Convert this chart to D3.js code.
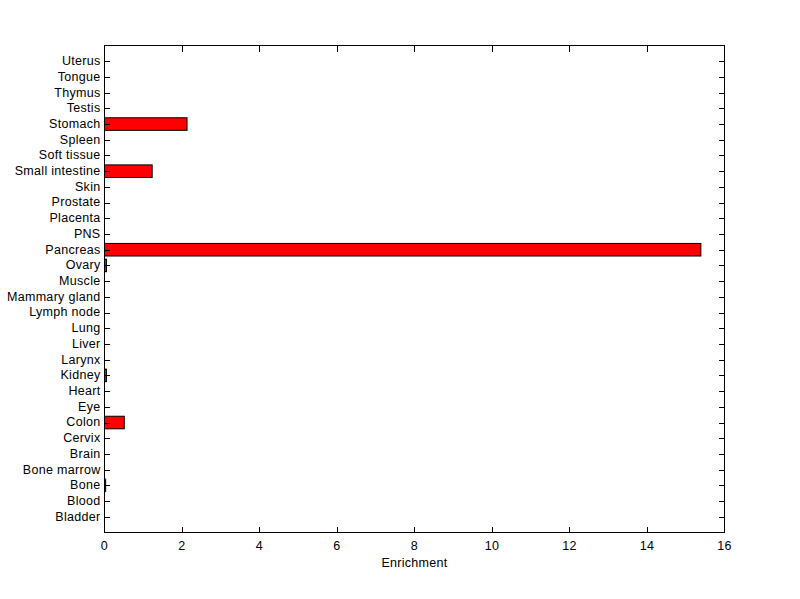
<!DOCTYPE html>
<html><head><meta charset="utf-8">
<script src="https://cdn.jsdelivr.net/npm/d3@7"></script>
<style>body{margin:0;background:#fff}svg{display:block}text{font-family:Arial,"Liberation Sans",sans-serif;font-size:12.5px;fill:#000;letter-spacing:0.3px}</style>
</head><body>
<script>
const categories = ["Bladder","Blood","Bone","Bone marrow","Brain","Cervix","Colon","Eye","Heart","Kidney","Larynx","Liver","Lung","Lymph node","Mammary gland","Muscle","Ovary","Pancreas","PNS","Placenta","Prostate","Skin","Small intestine","Soft tissue","Spleen","Stomach","Testis","Thymus","Tongue","Uterus"];
const values = [0,0,0.03,0,0,0,0.51,0,0,0.05,0,0,0,0,0,0,0.05,15.39,0,0,0,0,1.23,0,0,2.13,0,0,0,0];
const xTicks = [0,2,4,6,8,10,12,14,16];
const xLabel = "Enrichment";

const W=800,H=599;
const L=104.5,R=724.5,T=45.5,B=532.5;
const svg=d3.select("body").append("svg").attr("width",W).attr("height",H);
svg.append("rect").attr("width",W).attr("height",H).attr("fill","#fff");
const x=d3.scaleLinear().domain([0,16]).range([L,R]);
const y=d3.scaleLinear().domain([0,categories.length+1]).range([B,T]);
const bh=(y(0)-y(1))*0.8;

const data=categories.map((c,i)=>({c,v:values[i],p:i+1}));
svg.append("g").selectAll("rect").data(data.filter(d=>d.v>0)).join("rect")
  .attr("x",x(0)).attr("y",d=>y(d.p)-bh/2).attr("width",d=>x(d.v)-x(0)).attr("height",bh)
  .attr("fill","#ff0000").attr("stroke","#000").attr("stroke-width",1);

const g=svg.append("g").attr("stroke","#000").attr("stroke-width",1).attr("shape-rendering","crispEdges");
data.forEach(d=>{
  const yy=Math.round(y(d.p))+0.5;
  g.append("line").attr("x1",L).attr("x2",L+5).attr("y1",yy).attr("y2",yy);
  g.append("line").attr("x1",R).attr("x2",R-6).attr("y1",yy).attr("y2",yy);
});
xTicks.forEach(t=>{
  const xx=x(t);
  g.append("line").attr("x1",xx).attr("x2",xx).attr("y1",B).attr("y2",B-6);
  g.append("line").attr("x1",xx).attr("x2",xx).attr("y1",T).attr("y2",T+6);
});
g.append("rect").attr("x",L).attr("y",T).attr("width",R-L).attr("height",B-T).attr("fill","none");

svg.append("g").selectAll("text").data(data).join("text")
  .attr("x",L-4).attr("y",d=>y(d.p)-0.5).attr("dy","0.35em").attr("text-anchor","end").text(d=>d.c);
svg.append("g").selectAll("text").data(xTicks).join("text")
  .attr("x",d=>x(d)).attr("y",550).attr("text-anchor","middle").text(d=>d);
svg.append("text").attr("x",(L+R)/2).attr("y",567).attr("text-anchor","middle").text(xLabel);
</script>
</body></html>
